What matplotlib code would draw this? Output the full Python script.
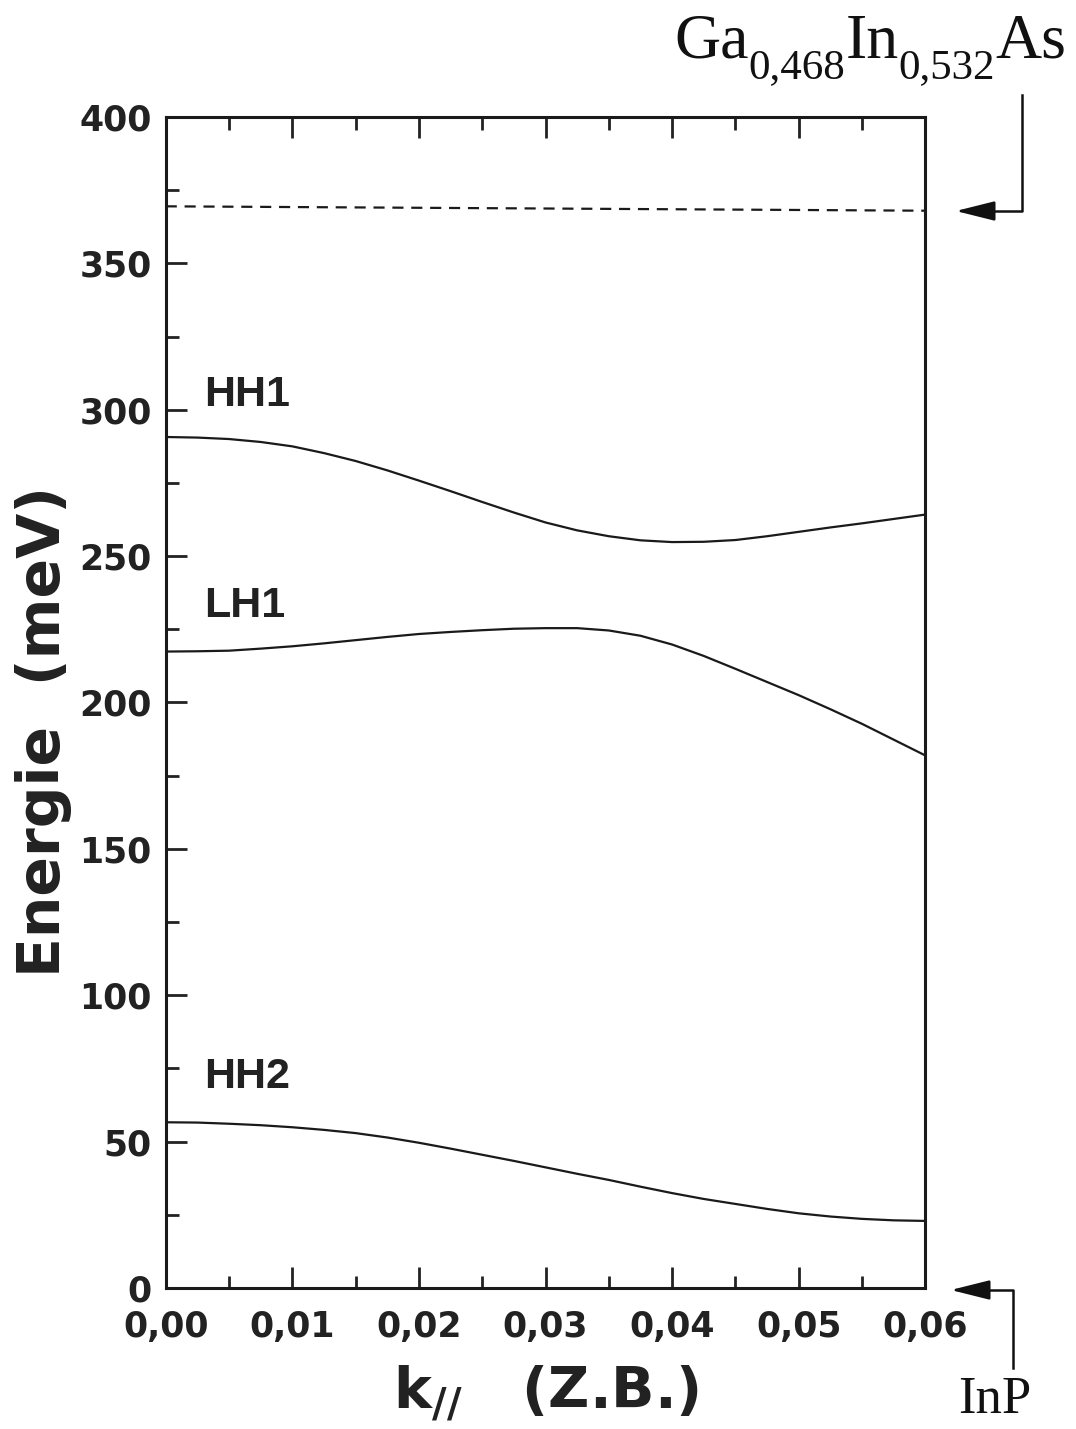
import matplotlib as mpl
mpl.use('agg')
import matplotlib.pyplot as plt
import numpy as np

# k// (Z.B.) sampling and subband energies (meV)
k = [0.0000, 0.0025, 0.0050, 0.0075, 0.0100, 0.0125, 0.0150, 0.0175,
     0.0200, 0.0225, 0.0250, 0.0275, 0.0300, 0.0325, 0.0350, 0.0375,
     0.0400, 0.0425, 0.0450, 0.0475, 0.0500, 0.0525, 0.0550, 0.0575, 0.0600]
hh1 = [290.7, 290.5, 290.0, 289.0, 287.5, 285.2, 282.5, 279.3,
       275.8, 272.2, 268.5, 264.9, 261.5, 258.8, 256.8, 255.4,
       254.8, 254.9, 255.5, 256.8, 258.3, 259.8, 261.2, 262.7, 264.2]
lh1 = [217.4, 217.5, 217.7, 218.4, 219.2, 220.2, 221.3, 222.4,
       223.4, 224.1, 224.7, 225.2, 225.4, 225.4, 224.6, 222.8,
       219.8, 215.9, 211.5, 207.0, 202.5, 197.7, 192.7, 187.3, 181.9]
hh2 = [56.6, 56.5, 56.1, 55.6, 54.9, 54.0, 52.9, 51.4,
       49.6, 47.6, 45.5, 43.4, 41.2, 39.0, 36.9, 34.6,
       32.4, 30.4, 28.7, 27.0, 25.5, 24.4, 23.6, 23.1, 22.9]
barrier = [369.5, 368.0]     # GaInAs band edge, left/right ends
bands = [('HH1', hh1, 305), ('LH1', lh1, 233), ('HH2', hh2, 72)]

xticks = [0.00, 0.01, 0.02, 0.03, 0.04, 0.05, 0.06]
xticklabels = ['0,00', '0,01', '0,02', '0,03', '0,04', '0,05', '0,06']
yticks = [0, 50, 100, 150, 200, 250, 300, 350, 400]

fig = plt.figure(figsize=(10.76, 14.29), dpi=100)
ax = fig.add_axes([0.154, 0.0987, 0.706, 0.8194])

for name, e, ylab in bands:
    ax.plot(k, e, color='#1a1a1a', linewidth=1.6)
    ax.text(0.003, ylab, name, fontsize=31, fontweight='bold',
            family='Liberation Sans', color='#222222', va='center', ha='left')
ax.plot([k[0], k[-1]], barrier, color='#1a1a1a', linewidth=1.6,
        linestyle=(0, (5, 3.5)))

ax.set_xlim(0, 0.06)
ax.set_ylim(0, 400)
ax.set_xticks(xticks)
ax.set_xticklabels(xticklabels)
ax.set_xticks(np.arange(0.005, 0.06, 0.01), minor=True)
ax.set_yticks(yticks)
ax.set_yticks(np.arange(25, 400, 50), minor=True)
ax.tick_params(which='both', direction='in', top=True, right=False,
               width=2, color='#222222')
ax.tick_params(which='major', length=15)
ax.tick_params(which='minor', length=9)
ax.tick_params(axis='x', pad=16)
ax.tick_params(axis='y', pad=10)
for lab in ax.get_xticklabels() + ax.get_yticklabels():
    lab.set_fontsize(25)
    lab.set_fontweight('bold')
    lab.set_color('#222222')
for sp in ax.spines.values():
    sp.set_linewidth(2.2)
    sp.set_color('#1a1a1a')

ax.set_ylabel('Energie  (meV)', fontsize=42, fontweight='bold',
              color='#222222')
ax.yaxis.set_label_coords(-0.124, 0.475)
ax.set_xlabel(r'$\mathbf{k_{//}}$   (Z.B.)', fontsize=41, fontweight='bold',
              color='#222222', labelpad=14)

# material labels with bent arrows on the right
r = fig.canvas.get_renderer()
x = 674
for s, size, dy in [('Ga', 46, 0), ('0,468', 31, -20), ('In', 46, 0),
                    ('0,532', 31, -20), ('As', 46, 0)]:
    t = fig.text(x, 1429 - 58 + dy, s, transform=None, fontsize=size,
                 family='Liberation Serif', ha='left', va='baseline',
                 color='#111111')
    x = t.get_window_extent(r).x1
fig.text(995, 1429 - 1413, 'InP', transform=None, fontsize=38,
         family='Liberation Serif', ha='center', va='baseline',
         color='#111111')

fig.add_artist(plt.Line2D([1022, 1022, 985], [1429 - 95, 1429 - 211, 1429 - 211],
                          transform=None, color='#111111', linewidth=1.8))
ax.annotate('', xy=(953, 1429 - 211), xytext=(995, 1429 - 211),
            xycoords='figure pixels', textcoords='figure pixels',
            arrowprops=dict(arrowstyle='-|>,head_length=2.4,head_width=0.6',
                            color='#111111', linewidth=1.8))
fig.add_artist(plt.Line2D([1013, 1013, 985], [1429 - 1368, 1429 - 1290, 1429 - 1290],
                          transform=None, color='#111111', linewidth=1.8))
ax.annotate('', xy=(948, 1429 - 1290), xytext=(990, 1429 - 1290),
            xycoords='figure pixels', textcoords='figure pixels',
            arrowprops=dict(arrowstyle='-|>,head_length=2.4,head_width=0.6',
                            color='#111111', linewidth=1.8))

plt.savefig('out.png', dpi=100)
